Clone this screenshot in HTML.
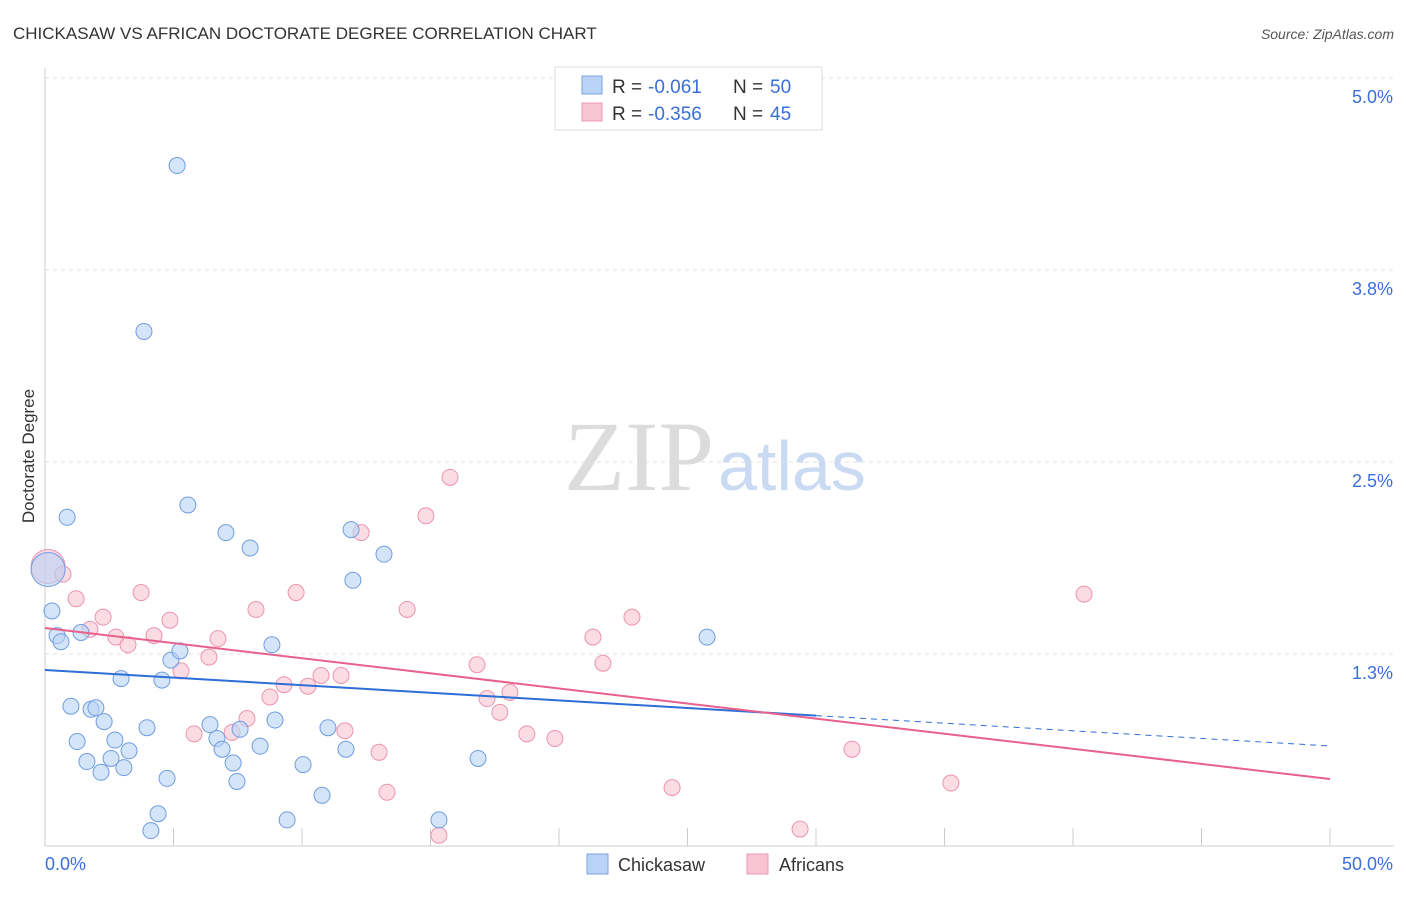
<!DOCTYPE html>
<html><head><meta charset="utf-8"><style>
body{margin:0;background:#fff;font-family:"Liberation Sans",sans-serif;}
</style></head><body>
<svg id="chart" width="1406" height="892" style="font-family:'Liberation Sans',sans-serif">
<text x="13" y="39" font-size="17" fill="#333">CHICKASAW VS AFRICAN DOCTORATE DEGREE CORRELATION CHART</text>
<text x="1394" y="39" font-size="14" fill="#555" text-anchor="end" font-style="italic">Source: ZipAtlas.com</text>
<g id="grid"></g>
<text x="714" y="490" font-size="100" fill="#dcdcdc" text-anchor="end" style="font-family:'Liberation Serif',serif">ZIP</text>
<text x="718" y="490" font-size="70" fill="#c9daf2">atlas</text>
<text transform="translate(34,456) rotate(-90)" font-size="17" fill="#333" text-anchor="middle">Doctorate Degree</text>
<g id="pts"></g>
<g id="trend"></g>
<g>
<rect x="555" y="67" width="267" height="63" fill="#fff" stroke="#ddd"/>
<rect x="582" y="76" width="20" height="18" fill="#b8d3f5" stroke="#7aa6e0"/>
<rect x="582" y="103" width="20" height="18" fill="#f8c4d4" stroke="#ee9ab3"/>
<text x="612" y="93" font-size="19" fill="#333">R =</text>
<text x="648" y="93" font-size="19" fill="#3a6fd8">-0.061</text>
<text x="733" y="93" font-size="19" fill="#333">N =</text>
<text x="770" y="93" font-size="19" fill="#3a6fd8">50</text>
<text x="612" y="120" font-size="19" fill="#333">R =</text>
<text x="648" y="120" font-size="19" fill="#3a6fd8">-0.356</text>
<text x="733" y="120" font-size="19" fill="#333">N =</text>
<text x="770" y="120" font-size="19" fill="#3a6fd8">45</text>
</g>
<g>
<rect x="587" y="854" width="21" height="20" fill="#b8d3f5" stroke="#7aa6e0"/>
<text x="618" y="871" font-size="18" fill="#333">Chickasaw</text>
<rect x="747" y="854" width="21" height="20" fill="#f8c4d4" stroke="#ee9ab3"/>
<text x="779" y="871" font-size="18" fill="#333">Africans</text>
</g>
</svg>
<script>
const yTicks=[1.25,2.5,3.75,5.0];
const yTickLabels=["1.3%","2.5%","3.8%","5.0%"];
const xTickLabels=["0.0%","50.0%"];
const blueX=[0.12,0.27,0.47,0.62,0.86,1.01,1.25,1.40,1.63,1.79,1.98,2.18,2.30,2.57,2.72,2.96,3.07,3.27,3.85,3.97,4.12,4.40,4.55,4.75,4.90,5.14,5.25,5.56,6.42,6.69,6.89,7.04,7.32,7.47,7.59,7.98,8.37,8.83,8.95,9.42,10.04,10.78,11.01,11.71,11.91,11.98,13.19,15.33,16.85,25.76];
const blueY=[1.80,1.53,1.37,1.33,2.14,0.91,0.68,1.39,0.55,0.89,0.90,0.48,0.81,0.57,0.69,1.09,0.51,0.62,3.35,0.77,0.10,0.21,1.08,0.44,1.21,4.43,1.27,2.22,0.79,0.70,0.63,2.04,0.54,0.42,0.76,1.94,0.65,1.31,0.82,0.17,0.53,0.33,0.77,0.63,2.06,1.73,1.90,0.17,0.57,1.36];
const pinkX=[0.12,0.70,1.21,1.75,2.26,2.76,3.23,3.74,4.24,4.86,5.29,5.80,6.38,6.73,7.28,7.86,8.21,8.75,9.30,9.77,10.23,10.74,11.52,11.67,12.30,13.00,13.31,14.09,14.82,15.33,15.76,16.81,17.20,17.70,18.09,18.75,19.84,21.32,21.71,22.84,24.40,29.38,31.40,35.25,40.43];
const pinkY=[1.82,1.77,1.61,1.41,1.49,1.36,1.31,1.65,1.37,1.47,1.14,0.73,1.23,1.35,0.74,0.83,1.54,0.97,1.05,1.65,1.04,1.11,1.11,0.75,2.04,0.61,0.35,1.54,2.15,0.07,2.40,1.18,0.96,0.87,1.00,0.73,0.70,1.36,1.19,1.49,0.38,0.11,0.63,0.41,1.64];
const blueTrend=[1.146,0.651];
const pinkTrend=[1.419,0.436];
const NS="http://www.w3.org/2000/svg";
const sx=v=>45+v*25.7, sy=v=>846-v*153.6;
function mk(t,a,p){const e=document.createElementNS(NS,t);for(const k in a)e.setAttribute(k,a[k]);p.appendChild(e);return e;}
const grid=document.getElementById('grid');
yTicks.forEach((t,i)=>{
 const l=mk('line',{x1:45,x2:1394,y1:sy(t),y2:sy(t),stroke:'#e2e2e2','stroke-dasharray':'4,4'},grid);
 
 
 const tx=mk('text',{x:1393,y:sy(t)+25,'font-size':18,fill:'#3a6fd8','text-anchor':'end'},grid);tx.textContent=yTickLabels[i];
 
 
});
const ax=mk('line',{x1:45,x2:45,y1:68,y2:846,stroke:'#ccc'},grid);


const bx=mk('line',{x1:45,x2:1394,y1:846,y2:846,stroke:'#ccc'},grid);


for(let i=1;i<=10;i++){const t=mk('line',{x1:sx(i*5),x2:sx(i*5),y1:828,y2:846,stroke:'#ccc'},grid);
 
 }
[[45,'start'],[1393,'end']].forEach((d,i)=>{const t=mk('text',{x:d[0],y:870,'font-size':18,fill:'#3a6fd8','text-anchor':d[1]},grid);t.textContent=xTickLabels[i];
 
 });
const pts=document.getElementById('pts');
function draw(X,Y,fill,stroke,name){X.forEach((x,i)=>{const c=mk('circle',{cx:sx(x),cy:sy(Y[i]),r:i==0?17:8,fill:fill,stroke:stroke,'stroke-width':1,'fill-opacity':0.6},pts);
 
 });}
draw(pinkX,pinkY,'#f8c4d4','#ec94ae','africans-point');
draw(blueX,blueY,'#b8d3f5','#6f9de0','chickasaw-point');
const tr=document.getElementById('trend');
const by=x=>blueTrend[0]+(blueTrend[1]-blueTrend[0])*x/50, py=x=>pinkTrend[0]+(pinkTrend[1]-pinkTrend[0])*x/50;
let l=mk('line',{x1:sx(0),y1:sy(by(0)),x2:sx(30),y2:sy(by(30)),stroke:'#2d6fd6','stroke-width':2},tr);


l=mk('line',{x1:sx(30),y1:sy(by(30)),x2:sx(50),y2:sy(by(50)),stroke:'#2d6fd6','stroke-width':1,'stroke-dasharray':'6,5'},tr);


l=mk('line',{x1:sx(0),y1:sy(py(0)),x2:sx(50),y2:sy(py(50)),stroke:'#e8608c','stroke-width':2},tr);


</script>
</body></html>
